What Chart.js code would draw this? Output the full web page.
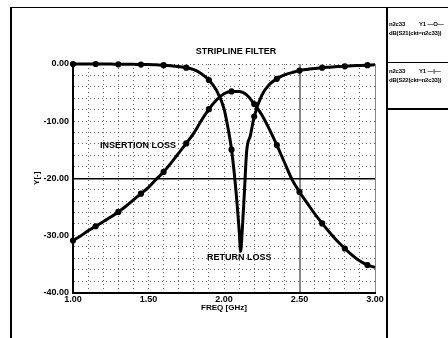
<!DOCTYPE html>
<html><head><meta charset="utf-8">
<script src="https://cdn.jsdelivr.net/npm/chart.js@4/dist/chart.umd.min.js"></script>
<style>
html,body{margin:0;padding:0;background:#fff;}
#wrap{position:relative;width:448px;height:338px;overflow:hidden;background:#fff;font-family:"Liberation Sans",Arial,sans-serif;}
#c{position:absolute;left:0;top:0;}
.ln{position:absolute;background:#000;}
.lg{position:absolute;font-size:6px;font-weight:bold;white-space:nowrap;line-height:7px;color:#000;letter-spacing:-0.2px;}
</style></head><body>
<div id="wrap">
<canvas id="c" width="448" height="338"></canvas>
<div class="ln" style="left:10px;top:8px;width:2px;height:330px"></div>
<div class="ln" style="left:10px;top:7px;width:438px;height:1px"></div>
<div class="ln" style="left:386px;top:7px;width:2px;height:331px"></div>
<div class="ln" style="left:388px;top:62px;width:60px;height:1px"></div>
<div class="ln" style="left:388px;top:108px;width:60px;height:2px"></div>
<div class="lg" style="left:389px;top:21px">n2c33</div>
<div class="lg" style="left:419px;top:21px">Y1 —O—</div>
<div class="lg" style="left:389px;top:30px">dB(S21(ckt=n2c33))</div>
<div class="lg" style="left:389px;top:68px">n2c33</div>
<div class="lg" style="left:419px;top:68px">Y1 —|—</div>
<div class="lg" style="left:389px;top:77px">dB(S22(ckt=n2c33))</div>
</div>
<script>
const titleText = 'STRIPLINE FILTER';
const xTitle = 'FREQ [GHz]';
const yTitle = 'Y[-]';
const insertionLabel = 'INSERTION LOSS';
const returnLabel = 'RETURN LOSS';

const freqS21 = [1.00,1.05,1.10,1.15,1.20,1.25,1.30,1.35,1.40,1.45,1.50,1.55,1.60,1.65,1.70,1.75,1.80,1.85,1.90,1.95,2.00,2.05,2.10,2.15,2.20,2.25,2.30,2.35,2.40,2.45,2.50,2.55,2.60,2.65,2.70,2.75,2.80,2.85,2.90,2.95,3.00];
const s21 = [-30.9,-30.1,-29.2,-28.4,-27.6,-26.8,-25.9,-24.9,-23.8,-22.7,-21.6,-20.2,-18.9,-17.3,-15.6,-13.9,-12.1,-9.9,-7.9,-6.3,-5.2,-4.8,-4.8,-5.4,-7.0,-8.9,-11.4,-14.2,-17.2,-20.2,-22.4,-24.3,-26.2,-27.9,-29.5,-31.0,-32.3,-33.5,-34.5,-35.2,-35.6];

const freqS22 = [1.00,1.05,1.10,1.15,1.20,1.25,1.30,1.35,1.40,1.45,1.50,1.55,1.60,1.65,1.70,1.75,1.80,1.85,1.90,1.95,2.00,2.025,2.05,2.075,2.10,2.11,2.12,2.135,2.15,2.175,2.20,2.25,2.30,2.35,2.40,2.45,2.50,2.55,2.60,2.65,2.70,2.75,2.80,2.85,2.90,2.95,3.00];
const s22 = [0.0,0.0,0.0,0.0,0.0,0.0,-0.05,-0.05,-0.05,-0.1,-0.1,-0.15,-0.2,-0.3,-0.45,-0.65,-1.0,-1.7,-2.8,-4.6,-7.8,-11.0,-15.0,-21.0,-29.0,-32.8,-29.5,-22.5,-15.3,-12.5,-9.2,-5.5,-3.6,-2.6,-1.9,-1.5,-1.15,-0.95,-0.8,-0.65,-0.55,-0.45,-0.4,-0.3,-0.25,-0.2,-0.15];

const near = (a,b) => Math.abs(a-b) < 1e-6;
const isMarker = f => { const k = (f-1)/0.15; return near(k, Math.round(k)); };
const isMajorX = v => near(v*2, Math.round(v*2));

function pts(fx, fy){ return fx.map((f,i)=>({x:f,y:fy[i]})); }

const annot = {
  id:'annot',
  afterDraw(chart){
    const c = chart.ctx;
    c.save();
    c.fillStyle='#000';
    c.font='bold 9px "Liberation Sans", Arial, sans-serif';
    c.textBaseline='middle';
    c.textAlign='center';
    c.fillText(titleText, 236, 52);
    c.textAlign='left';
    c.fillText(insertionLabel, 100, 146);
    c.fillText(returnLabel, 207, 258);
    c.restore();
  }
};

const font9 = {family:'"Liberation Sans", Arial, sans-serif', size:9, weight:'bold'};
const gridDot = 'rgba(0,0,0,0.6)';

new Chart(document.getElementById('c'), {
  type:'line',
  data:{datasets:[
    {label:'dB(S21(ckt=n2c33))', data:pts(freqS21,s21), borderColor:'#000', borderWidth:3,
     pointRadius:ctx=>isMarker(freqS21[ctx.dataIndex])?1.6:0, pointBackgroundColor:'#000', pointBorderColor:'#000',
     cubicInterpolationMode:'monotone', clip:false},
    {label:'dB(S22(ckt=n2c33))', data:pts(freqS22,s22), borderColor:'#000', borderWidth:3,
     pointRadius:ctx=>isMarker(freqS22[ctx.dataIndex])?1.6:0, pointBackgroundColor:'#000', pointBorderColor:'#000',
     cubicInterpolationMode:'monotone', clip:false}
  ]},
  options:{
    responsive:false, animation:false, devicePixelRatio:1,
    layout:{padding:{top:64,right:73,left:0,bottom:0}},
    plugins:{legend:{display:false}, title:{display:false}, tooltip:{enabled:false}},
    scales:{
      x:{type:'linear', min:1, max:3,
        afterFit:s=>{s.height=45.5;},
        ticks:{stepSize:0.1, autoSkip:false, maxRotation:0, padding:2, color:'#000', font:font9,
          callback:v=>isMajorX(v)?Number(v).toFixed(2):''},
        grid:{drawTicks:false,
          color:ctx=>(ctx.tick && (near(ctx.tick.value,2.5)||near(ctx.tick.value,3)))?'#888':gridDot,
          lineWidth:ctx=>(ctx.tick && near(ctx.tick.value,2.5))?2:1},
        border:{display:true, color:'#000', width:2,
          dash:ctx=>(ctx.tick && (near(ctx.tick.value,2.5)||near(ctx.tick.value,3)))?[]:[1,3]},
        title:{display:true, text:xTitle, color:'#000', font:{family:'"Liberation Sans", Arial, sans-serif', size:8, weight:'bold'}, padding:{top:0,bottom:25}}
      },
      y:{type:'linear', min:-40, max:0,
        afterFit:s=>{s.width=73;},
        ticks:{stepSize:2, autoSkip:false, padding:4, color:'#000', font:font9,
          callback:v=>near(v%10,0)?Number(v).toFixed(2):''},
        grid:{drawTicks:false,
          color:ctx=>(ctx.tick && near(ctx.tick.value,-20))?'#000':gridDot,
          lineWidth:ctx=>(ctx.tick && near(ctx.tick.value,-20))?1.5:1},
        border:{display:true, color:'#000', width:2,
          dash:ctx=>(ctx.tick && near(ctx.tick.value,-20))?[]:[1,3]},
        title:{display:true, text:yTitle, color:'#000', font:{family:'"Liberation Sans", Arial, sans-serif', size:8, weight:'bold'}, padding:{top:32,bottom:0}}
      }
    }
  },
  plugins:[annot]
});
</script>
</body></html>
